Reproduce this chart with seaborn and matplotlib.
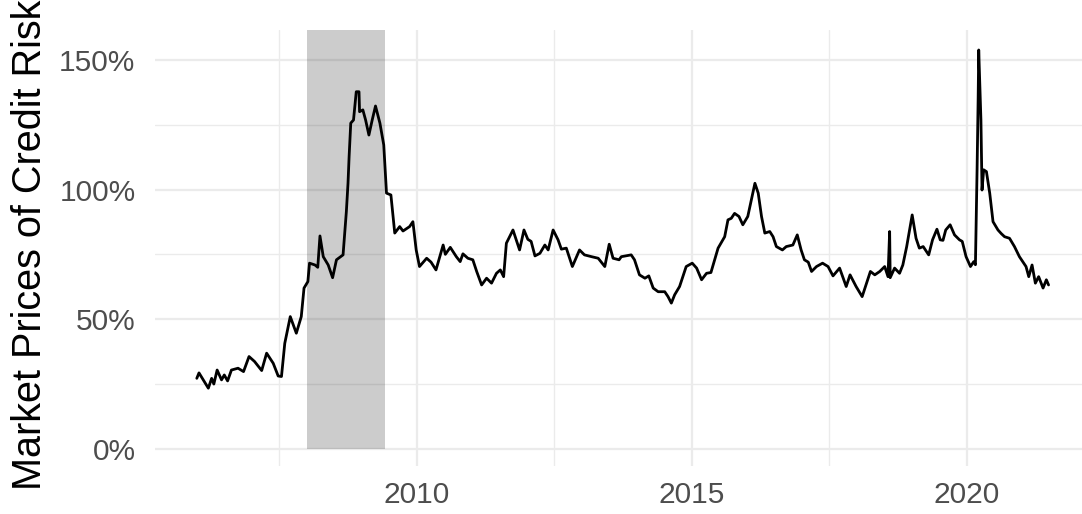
import numpy as np
import pandas as pd
import matplotlib
matplotlib.use("Agg")
import matplotlib.pyplot as plt
import seaborn as sns
from matplotlib.ticker import FuncFormatter

# Market price of credit risk (weekly series), decimal years
years = [
    2006.00, 2006.04, 2006.21, 2006.27, 2006.31, 2006.37, 2006.45, 2006.50, 2006.56, 2006.63,
    2006.75, 2006.85, 2006.95, 2007.05, 2007.18, 2007.27, 2007.39, 2007.48, 2007.54, 2007.60,
    2007.70, 2007.81, 2007.90, 2007.95, 2008.02, 2008.05, 2008.15, 2008.20, 2008.24, 2008.30,
    2008.39, 2008.47, 2008.54, 2008.66, 2008.72, 2008.75, 2008.77, 2008.80, 2008.85, 2008.90,
    2008.95, 2008.96, 2009.02, 2009.07, 2009.13, 2009.19, 2009.25, 2009.33, 2009.40, 2009.45,
    2009.53, 2009.60, 2009.69, 2009.75, 2009.87, 2009.93, 2009.99, 2010.05, 2010.18, 2010.26,
    2010.35, 2010.48, 2010.52, 2010.61, 2010.72, 2010.79, 2010.84, 2010.93, 2011.02, 2011.09,
    2011.18, 2011.27, 2011.36, 2011.45, 2011.52, 2011.58, 2011.63, 2011.75, 2011.81, 2011.87,
    2011.95, 2012.02, 2012.08, 2012.15, 2012.24, 2012.33, 2012.39, 2012.48, 2012.57, 2012.63,
    2012.72, 2012.83, 2012.96, 2013.05, 2013.18, 2013.30, 2013.42, 2013.50, 2013.57, 2013.68,
    2013.72, 2013.90, 2013.96, 2014.05, 2014.15, 2014.22, 2014.30, 2014.39, 2014.51, 2014.57,
    2014.63, 2014.69, 2014.78, 2014.90, 2015.01, 2015.09, 2015.18, 2015.27, 2015.35, 2015.48,
    2015.60, 2015.66, 2015.72, 2015.78, 2015.86, 2015.93, 2016.02, 2016.15, 2016.21, 2016.27,
    2016.33, 2016.42, 2016.48, 2016.54, 2016.65, 2016.72, 2016.84, 2016.92, 2016.99, 2017.05,
    2017.12, 2017.18, 2017.27, 2017.38, 2017.48, 2017.57, 2017.69, 2017.81, 2017.88, 2017.99,
    2018.10, 2018.18, 2018.25, 2018.33, 2018.42, 2018.51, 2018.57, 2018.60, 2018.61, 2018.69,
    2018.78, 2018.84, 2018.91, 2019.01, 2019.08, 2019.14, 2019.21, 2019.31, 2019.38, 2019.46,
    2019.52, 2019.57, 2019.62, 2019.70, 2019.78, 2019.87, 2019.92, 2019.99, 2020.07, 2020.13,
    2020.16, 2020.19, 2020.21, 2020.22, 2020.26, 2020.28, 2020.31, 2020.36, 2020.42, 2020.48,
    2020.57, 2020.63, 2020.69, 2020.78, 2020.87, 2020.96, 2021.08, 2021.13, 2021.19, 2021.25,
    2021.31, 2021.39, 2021.45, 2021.49,
]
credit_risk = [
    27.2, 29.3, 23.4, 27.2, 25.0, 30.4, 26.6, 28.5, 26.2, 30.4,
    31.1, 29.8, 35.6, 33.7, 30.2, 36.9, 33.0, 28.1, 27.9, 40.7,
    51.0, 44.6, 51.0, 62.0, 64.5, 71.6, 70.9, 70.0, 82.1, 74.1,
    70.9, 66.0, 72.9, 74.8, 91.5, 102.4, 112.7, 125.6, 126.8, 137.7,
    137.7, 130.0, 130.7, 126.8, 121.0, 126.8, 132.2, 125.6, 117.2, 98.6,
    97.9, 83.2, 85.7, 84.0, 85.7, 87.6, 76.7, 70.3, 73.5, 72.0,
    69.0, 78.6, 75.0, 77.7, 74.1, 72.2, 75.2, 73.5, 72.9, 68.4,
    63.2, 65.8, 63.9, 67.7, 69.0, 66.4, 79.3, 84.4, 80.6, 76.7,
    84.4, 80.8, 80.0, 74.4, 75.4, 78.6, 76.7, 84.4, 80.6, 77.0,
    77.4, 70.3, 76.7, 74.8, 74.1, 73.5, 70.3, 78.9, 73.5, 72.9,
    74.1, 74.8, 72.9, 67.1, 65.8, 66.7, 62.0, 60.6, 60.6, 58.7,
    56.2, 59.4, 62.6, 70.3, 71.6, 69.7, 65.2, 67.7, 68.0, 77.4,
    81.8, 88.3, 88.9, 90.8, 89.6, 86.4, 89.6, 102.4, 98.6, 89.6,
    83.2, 83.8, 81.8, 78.0, 76.7, 78.0, 78.6, 82.5, 76.7, 72.9,
    72.0, 68.4, 70.3, 71.6, 70.3, 66.7, 69.7, 62.6, 67.1, 62.6,
    58.7, 63.9, 68.4, 67.1, 68.4, 70.3, 66.4, 83.8, 66.0, 69.7,
    67.7, 70.9, 78.0, 90.2, 81.2, 77.4, 78.0, 74.8, 80.6, 84.7,
    80.6, 80.4, 84.4, 86.4, 82.5, 80.6, 80.0, 74.1, 70.3, 72.2,
    71.0, 107.6, 135.8, 153.8, 126.8, 99.8, 107.6, 106.9, 98.6, 87.6,
    84.4, 83.0, 81.8, 81.2, 78.0, 74.1, 70.3, 66.4, 70.9, 63.9,
    66.4, 62.0, 65.2, 63.2,
]

# recession shading (decimal years)
recession = [2008.0, 2009.42]

df = pd.DataFrame({"year": years, "risk": credit_risk})

sns.set_theme(style="white")
plt.rcParams['font.family'] = ['Liberation Sans', 'DejaVu Sans']

fig = plt.figure(figsize=(10.82, 5.14), dpi=100)
ax = fig.add_axes([155 / 1082, 48 / 514, 937 / 1082, 436 / 514])

ax.fill_betweenx([0, 300], recession[0], recession[1], color="black", alpha=0.2, lw=0, zorder=2)
sns.lineplot(data=df, x="year", y="risk", color="black", lw=2.0, estimator=None, sort=False, ax=ax, zorder=3)

ax.set_xlim(2005.24, 2022.28)
ax.set_ylim(-6.6, 161.5)

ax.set_xticks([2010, 2015, 2020])
ax.set_xticks([2007.5, 2012.5, 2017.5], minor=True)
ax.set_yticks([0, 50, 100, 150])
ax.set_yticks([25, 75, 125], minor=True)
ax.yaxis.set_major_formatter(FuncFormatter(lambda v, _: f"{v:.0f}%"))

ax.grid(which="major", color="#EBEBEB", lw=1.6, zorder=0)
ax.grid(which="minor", color="#EBEBEB", lw=1.0, zorder=0)
ax.set_axisbelow(True)
for s in ax.spines.values():
    s.set_visible(False)

ax.tick_params(axis="both", which="both", length=0, labelsize=21.5, labelcolor="#4D4D4D")
ax.tick_params(axis="x", pad=11)
ax.tick_params(axis="y", pad=14)

ax.set_xlabel("")
ax.set_ylabel("Market Prices of Credit Risk", fontsize=28.5, color="black")
ax.yaxis.set_label_coords(-0.113, 0.508)

fig.savefig("out.png", dpi=100)
